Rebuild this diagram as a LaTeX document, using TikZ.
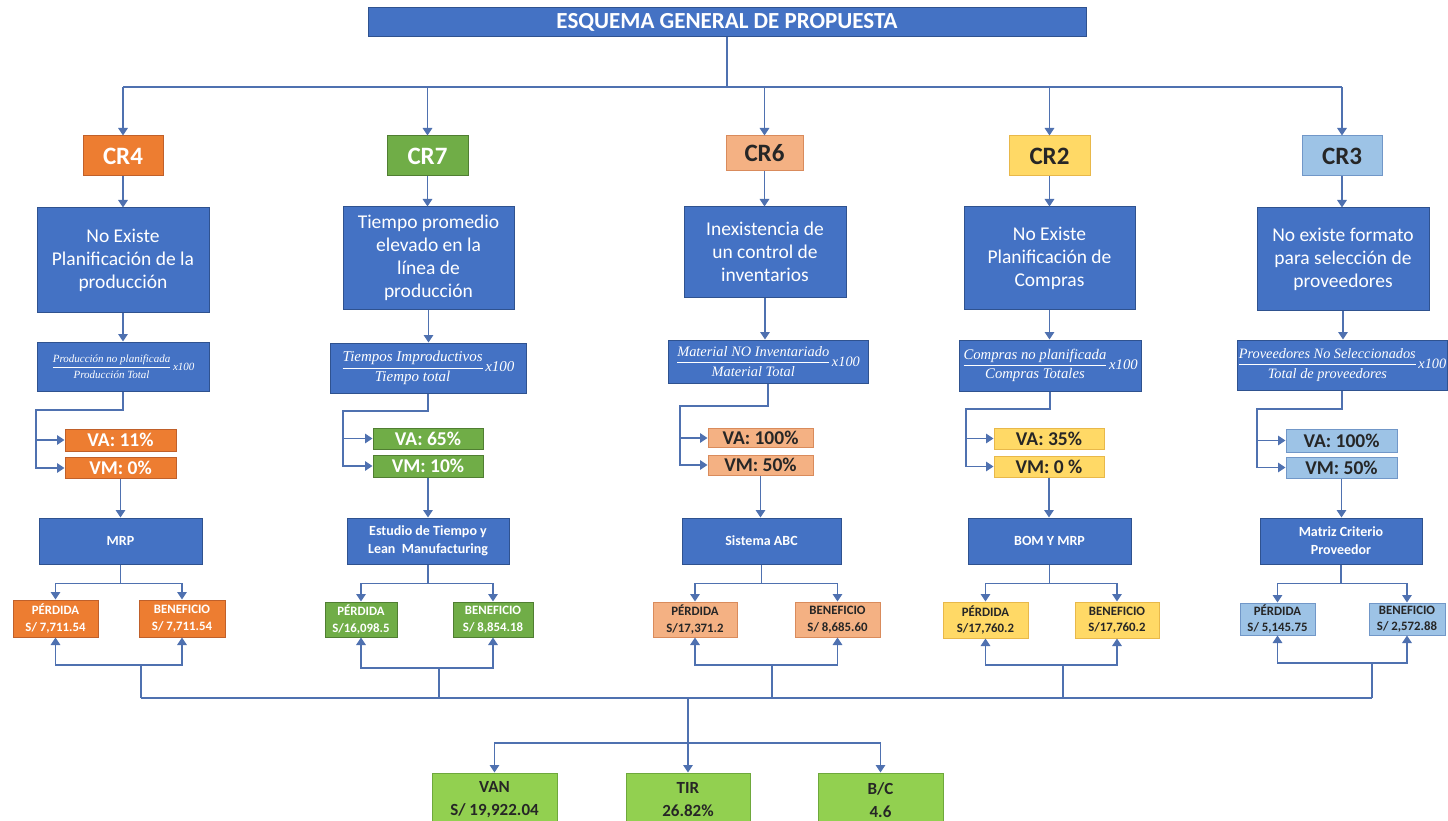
\documentclass[tikz,border=0pt]{standalone}
\usepackage{fontspec}
\usepackage{amsmath}
\setsansfont{Carlito}
\newfontfamily\formfont{Liberation Serif}
\usetikzlibrary{arrows.meta}
\definecolor{lnc}{HTML}{4F71B0}
\definecolor{blF}{HTML}{4472C4}
\definecolor{blD}{HTML}{2F528F}
\definecolor{orF}{HTML}{ED7D31}
\definecolor{orD}{HTML}{C0602A}
\definecolor{grF}{HTML}{70AD47}
\definecolor{grD}{HTML}{507E32}
\definecolor{saF}{HTML}{F4B183}
\definecolor{saD}{HTML}{D98B5C}
\definecolor{yeF}{HTML}{FFD966}
\definecolor{yeD}{HTML}{E8B84A}
\definecolor{lbF}{HTML}{9DC3E6}
\definecolor{lbD}{HTML}{7197C8}
\definecolor{bgF}{HTML}{92D050}
\definecolor{bgD}{HTML}{6EA83C}
\definecolor{dk}{HTML}{262626}
\newcommand{\ftTitle}{\sffamily\bfseries\fontsize{23}{27}\selectfont}
\newcommand{\ftCR}{\sffamily\bfseries\fontsize{25}{30}\selectfont}
\newcommand{\ftProb}{\sffamily\fontsize{19.5}{23}\selectfont}
\newcommand{\ftVal}{\sffamily\bfseries\fontsize{19.5}{21}\selectfont}
\newcommand{\ftSol}{\sffamily\bfseries\fontsize{14}{18}\selectfont}
\newcommand{\ftPB}{\sffamily\bfseries\fontsize{12.8}{16.5}\selectfont}
\newcommand{\ftBot}{\sffamily\bfseries\fontsize{17}{23}\selectfont}
\newcommand{\frml}[3]{{\fontsize{#1}{#1}\selectfont\formfont\itshape $\genfrac{}{}{0.8pt}{0}{\hbox{#2}}{\hbox{#3}}$\kern1.5pt x100}}
\begin{document}
\begin{tikzpicture}[x=1pt,y=-1pt,
  ln/.style={draw=lnc, line width=1.5pt},
  arr/.style={ln, -{Triangle[width=9.5pt,length=7.5pt]}},
  box/.style={inner sep=0pt, line width=1pt, align=center},
  bbox/.style={box, fill=blF, draw=blD, text=white},
  orb/.style={box, fill=orF, draw=orD, text=white},
  grb/.style={box, fill=grF, draw=grD, text=white},
  sab/.style={box, fill=saF, draw=saD, text=dk},
  yeb/.style={box, fill=yeF, draw=yeD, text=dk},
  lbb/.style={box, fill=lbF, draw=lbD, text=dk},
  bgb/.style={box, fill=bgF, draw=bgD, text=dk, font=\ftBot},
  cr/.style={font=\ftCR},
  prob/.style={bbox, font=\ftProb},
  form/.style={bbox},
  val/.style={font=\ftVal},
  sol/.style={bbox, font=\ftSol},
  pb/.style={font=\ftPB}
]
\useasboundingbox (0,0) rectangle (1448,821);
\clip (0,0) rectangle (1448,821);
\fill[white] (0,0) rectangle (1448,821);

% title
\node[bbox, font=\ftTitle, minimum width=718, minimum height=29] (title) at (727,22.5) {ESQUEMA GENERAL DE PROPUESTA};
\coordinate (hub) at (727,87);

% CR boxes
\node[orb, cr, minimum width=80, minimum height=40] (cr4) at (123,156) {CR4};
\node[grb, cr, minimum width=81, minimum height=40] (cr7) at (427.5,156) {CR7};
\node[sab, cr, minimum width=77, minimum height=35] (cr6) at (764.5,153.5) {CR6};
\node[yeb, cr, minimum width=81, minimum height=40] (cr2) at (1049.5,156) {CR2};
\node[lbb, cr, minimum width=80, minimum height=40] (cr3) at (1342,156) {CR3};

% problem boxes
\node[prob, minimum width=172, minimum height=104] (p1) at (123,260) {No Existe\\Planificación de la\\producción};
\node[prob, minimum width=171, minimum height=102] (p2) at (428.5,258) {Tiempo promedio\\elevado en la\\línea de\\producción};
\node[prob, minimum width=162, minimum height=90] (p3) at (765,252) {Inexistencia de\\un control de\\inventarios};
\node[prob, minimum width=171, minimum height=102] (p4) at (1049.5,258) {No Existe\\Planificación de\\Compras};
\node[prob, minimum width=172, minimum height=102] (p5) at (1343,259) {No existe formato\\para selección de\\proveedores};

% formula boxes
\node[form, minimum width=172, minimum height=49] (f1) at (123,366.5) {\frml{11}{Producción no planificada}{Producción Total}};
\node[form, minimum width=196, minimum height=50] (f2) at (428,368) {\frml{15}{Tiempos Improductivos}{Tiempo total}};
\node[form, minimum width=200, minimum height=43] (f3) at (768,361.5) {\frml{14.4}{Material NO Inventariado}{Material Total}};
\node[form, minimum width=182, minimum height=51] (f4) at (1050,365.5) {\frml{14.7}{Compras no planificada}{Compras Totales}};
\node[form, minimum width=210, minimum height=50] (f5) at (1342,365) {\frml{14.3}{Proveedores No Seleccionados}{Total de proveedores}};

% VA / VM
\node[orb, val, minimum width=111, minimum height=22] (va1) at (120.5,440) {VA: 11\%};
\node[orb, val, minimum width=111, minimum height=21] (vm1) at (120.5,468) {VM: 0\%};
\node[grb, val, minimum width=110, minimum height=21] (va2) at (428,438.5) {VA: 65\%};
\node[grb, val, minimum width=110, minimum height=22] (vm2) at (428,466) {VM: 10\%};
\node[sab, val, minimum width=105, minimum height=19] (va3) at (760.5,438) {VA: 100\%};
\node[sab, val, minimum width=105, minimum height=20] (vm3) at (760.5,465) {VM: 50\%};
\node[yeb, val, minimum width=110, minimum height=21] (va4) at (1049,438.5) {VA: 35\%};
\node[yeb, val, minimum width=110, minimum height=21] (vm4) at (1049,466.5) {VM: 0 \%};
\node[lbb, val, minimum width=111, minimum height=23] (va5) at (1341.5,440.5) {VA: 100\%};
\node[lbb, val, minimum width=111, minimum height=21] (vm5) at (1341.5,467.5) {VM: 50\%};

% solutions
\node[sol, minimum width=163, minimum height=46] (s1) at (120.5,541) {MRP};
\node[sol, minimum width=162, minimum height=46] (s2) at (428,541) {Estudio de Tiempo y\\Lean\ \ Manufacturing};
\node[sol, minimum width=159, minimum height=46] (s3) at (761.5,541) {Sistema ABC};
\node[sol, minimum width=163, minimum height=46] (s4) at (1049.5,541) {BOM Y MRP};
\node[sol, minimum width=162, minimum height=46] (s5) at (1341,541) {Matriz Criterio\\Proveedor};

% perdida / beneficio
\node[orb, pb, minimum width=85, minimum height=37] (pe1) at (55.5,618.5) {PÉRDIDA\\S/ 7,711.54};
\node[orb, pb, minimum width=86, minimum height=37] (be1) at (182,618.5) {BENEFICIO\\S/ 7,711.54};
\node[grb, pb, minimum width=72, minimum height=35] (pe2) at (361,619.5) {PÉRDIDA\\S/16,098.5};
\node[grb, pb, minimum width=80, minimum height=35] (be2) at (493,619.5) {BENEFICIO\\S/ 8,854.18};
\node[sab, pb, minimum width=84, minimum height=35] (pe3) at (695,619.5) {PÉRDIDA\\S/17,371.2};
\node[sab, pb, minimum width=85, minimum height=35] (be3) at (837.5,619.5) {BENEFICIO\\S/ 8,685.60};
\node[yeb, pb, minimum width=85, minimum height=36] (pe4) at (985.5,620) {PÉRDIDA\\S/17,760.2};
\node[yeb, pb, minimum width=84, minimum height=36] (be4) at (1117,620) {BENEFICIO\\S/17,760.2};
\node[lbb, pb, minimum width=75, minimum height=32] (pe5) at (1277.5,619) {PÉRDIDA\\S/ 5,145.75};
\node[lbb, pb, minimum width=76, minimum height=32] (be5) at (1407,619) {BENEFICIO\\S/ 2,572.88};

% bottom results
\node[bgb, minimum width=125, minimum height=54] (van) at (494.5,800) {VAN\\S/ 19,922.04};
\node[bgb, minimum width=124, minimum height=54] (tir) at (688,800) {TIR\\26.82\%};
\node[bgb, minimum width=125, minimum height=54] (bc) at (880.5,800) {B/C\\4.6};

% ---------- connectors ----------
\draw[ln] (title.south) -- (hub);
\draw[ln] (cr4 |- hub) -- (cr3 |- hub);
\foreach \c in {cr4,cr7,cr6,cr2,cr3}{\draw[arr] (\c |- hub) -- (\c.north);}
\draw[arr] (cr4.south) -- (cr4.south |- p1.north);
\draw[arr] (cr7.south) -- (cr7.south |- p2.north);
\draw[arr] (cr6.south) -- (cr6.south |- p3.north);
\draw[arr] (cr2.south) -- (cr2.south |- p4.north);
\draw[arr] (cr3.south) -- (cr3.south |- p5.north);
\draw[arr] (p1.south) -- (p1.south |- f1.north);
\draw[arr] (p2.south) -- (p2.south |- f2.north);
\draw[arr] (p3.south) -- (p3.south |- f3.north);
\draw[arr] (p4.south) -- (p4.south |- f4.north);
\draw[arr] (p5.south) -- (p5.south |- f5.north);

% formula -> VA / VM
\coordinate (b1) at (36,410);
\coordinate (b2) at (343,411);
\coordinate (b3) at (680,406);
\coordinate (b4) at (966,409);
\coordinate (b5) at (1257,409);
\draw[arr] (f1.south) |- (b1) |- (vm1.west);  \draw[arr] (b1 |- va1.west) -- (va1.west);
\draw[arr] (f2.south) |- (b2) |- (vm2.west);  \draw[arr] (b2 |- va2.west) -- (va2.west);
\draw[arr] (f3.south) |- (b3) |- (vm3.west);  \draw[arr] (b3 |- va3.west) -- (va3.west);
\draw[arr] (f4.south) |- (b4) |- (vm4.west);  \draw[arr] (b4 |- va4.west) -- (va4.west);
\draw[arr] (f5.south) |- (b5) |- (vm5.west);  \draw[arr] (b5 |- va5.west) -- (va5.west);

% VM -> solution
\draw[arr] (vm1.south) -- (vm1.south |- s1.north);
\draw[arr] (vm2.south) -- (vm2.south |- s2.north);
\draw[arr] (vm3.south) -- (vm3.south |- s3.north);
\draw[arr] (vm4.south) -- (vm4.south |- s4.north);
\draw[arr] (vm5.south) -- (vm5.south |- s5.north);

% solution -> perdida / beneficio
\foreach \i in {1,...,5}{
  \path (s\i.south) ++(0,19) coordinate (d\i);
  \draw[ln] (s\i.south) -- (d\i);
  \draw[arr] (d\i) -| (pe\i.north);
  \draw[arr] (d\i) -| (be\i.north);
}

% perdida / beneficio <- collector
\coordinate (u1) at (141,665);
\coordinate (u2) at (439,668);
\coordinate (u3) at (772,665);
\coordinate (u4) at (1063,665);
\coordinate (u5) at (1372,663);
\coordinate (main) at (688,698);
\foreach \i in {1,...,5}{
  \draw[arr] (u\i) -| (pe\i.south);
  \draw[arr] (u\i) -| (be\i.south);
  \draw[ln] (u\i) -- (u\i |- main);
}
\draw[ln] (u1 |- main) -- (u5 |- main);

% bottom
\coordinate (h2) at (688,743);
\draw[ln] (main) -- (h2);
\draw[arr] (h2) -- (tir.north);
\draw[arr] (h2) -| (van.north);
\draw[arr] (h2) -| (bc.north);
\end{tikzpicture}
\end{document}
